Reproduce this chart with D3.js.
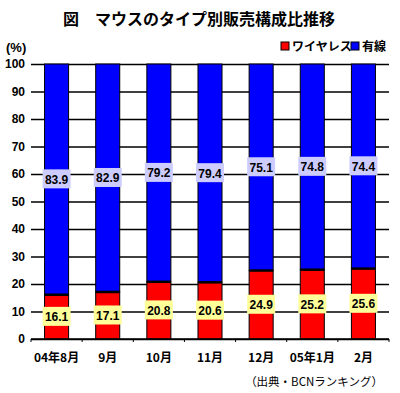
<!DOCTYPE html>
<html>
<head>
<meta charset="utf-8">
<script src="https://cdn.jsdelivr.net/npm/d3@7"></script>
<style>
  body { margin: 0; background: #fff; }
  svg { font-family: "Liberation Sans", "Noto Sans CJK JP", sans-serif; }
</style>
</head>
<body>
<div id="chart"></div>
<script>
// data
const months = ["04年8月", "9月", "10月", "11月", "12月", "05年1月", "2月"];
const wireless = [16.1, 17.1, 20.8, 20.6, 24.9, 25.2, 25.6];
const wired = [83.9, 82.9, 79.2, 79.4, 75.1, 74.8, 74.4];
const yTicks = [0, 10, 20, 30, 40, 50, 60, 70, 80, 90, 100];

const width = 400, height = 393;
const margin = { top: 64, right: 11, bottom: 54, left: 31 };

const svg = d3.select("#chart")
  .append("svg")
  .attr("width", width)
  .attr("height", height);

const x = d3.scaleBand()
  .domain(months)
  .range([margin.left, width - margin.right])
  .paddingInner(0.53)
  .paddingOuter(0.265);

const y = d3.scaleLinear()
  .domain([0, 100])
  .range([height - margin.bottom, margin.top]);

// title
svg.append("text")
  .attr("x", 199)
  .attr("y", 25)
  .attr("text-anchor", "middle")
  .attr("font-size", "16px")
  .attr("font-weight", "bold")
  .attr("font-family", "Noto Sans CJK JP")
  .text("図　マウスのタイプ別販売構成比推移");

svg.append("text")
  .attr("x", 6)
  .attr("y", 52)
  .attr("font-size", "13px")
  .attr("font-weight", "bold")
  .text("(%)");

// legend
const legend = [
  { name: "ワイヤレス", color: "#ff0000", x: 281 },
  { name: "有線", color: "#0000ff", x: 351 }
];
legend.forEach(d => {
  svg.append("rect")
    .attr("x", d.x).attr("y", 42)
    .attr("width", 8).attr("height", 8)
    .attr("fill", d.color)
    .attr("stroke", "#000");
  svg.append("text")
    .attr("x", d.x + 11).attr("y", 51)
    .attr("font-size", "12px")
    .attr("font-weight", "bold")
    .attr("font-family", "Noto Sans CJK JP")
    .text(d.name);
});

// grid lines + y labels
svg.append("g")
  .attr("transform", `translate(${margin.left},0)`)
  .call(d3.axisLeft(y).tickValues(yTicks).tickSize(-(width - margin.left - margin.right)).tickPadding(6))
  .call(g => g.select(".domain").remove())
  .call(g => g.selectAll("line").attr("stroke", "#000").attr("stroke-width", 1.5))
  .call(g => g.selectAll("text")
    .attr("font-size", "12px")
    .attr("font-weight", "bold")
    .attr("fill", "#000")
    .attr("font-family", "Liberation Sans"));

// x axis ticks at band boundaries
const step = x.step();
const bounds = d3.range(months.length + 1).map(i => margin.left + i * step);
svg.append("g")
  .selectAll("line")
  .data(bounds)
  .join("line")
    .attr("x1", d => d).attr("x2", d => d)
    .attr("y1", y(0)).attr("y2", y(0) + 3)
    .attr("stroke", "#000")
    .attr("stroke-width", 1);

// bars
const rows = months.map((m, i) => ({ month: m, wl: wireless[i], wd: wired[i] }));
const bars = svg.append("g");
bars.selectAll(".red")
  .data(rows)
  .join("rect")
    .attr("x", d => x(d.month))
    .attr("y", d => y(d.wl))
    .attr("width", x.bandwidth())
    .attr("height", d => y(0) - y(d.wl))
    .attr("fill", "#ff0000")
    .attr("stroke", "#000")
    .attr("stroke-width", 1);
bars.selectAll(".blue")
  .data(rows)
  .join("rect")
    .attr("x", d => x(d.month))
    .attr("y", y(100))
    .attr("width", x.bandwidth())
    .attr("height", d => y(d.wl) - y(100))
    .attr("fill", "#0000ff")
    .attr("stroke", "#000")
    .attr("stroke-width", 1);
// thicker divider between the two segments
bars.selectAll(".div")
  .data(rows)
  .join("line")
    .attr("x1", d => x(d.month))
    .attr("x2", d => x(d.month) + x.bandwidth())
    .attr("y1", d => y(d.wl))
    .attr("y2", d => y(d.wl))
    .attr("stroke", "#000")
    .attr("stroke-width", 2.5);

// baseline
svg.append("line")
  .attr("x1", margin.left).attr("x2", width - margin.right)
  .attr("y1", y(0)).attr("y2", y(0))
  .attr("stroke", "#000").attr("stroke-width", 1.5);

// value labels
function label(cx, cy, txt, bg) {
  svg.append("rect")
    .attr("x", cx - 14).attr("y", cy - 10)
    .attr("width", 28).attr("height", 19)
    .attr("fill", bg);
  svg.append("text")
    .attr("x", cx).attr("y", cy + 4.5)
    .attr("text-anchor", "middle")
    .attr("font-size", "12px")
    .attr("font-weight", "bold")
    .text(txt);
}
rows.forEach(d => {
  const cx = x(d.month) + x.bandwidth() / 2;
  label(cx, y(d.wl + d.wd / 2), d.wd.toFixed(1), "#ccccff");
  label(cx, y(d.wl / 2), d.wl.toFixed(1), "#ffff99");
});

// x labels
svg.append("g")
  .selectAll("text")
  .data(months)
  .join("text")
    .attr("x", d => x(d) + x.bandwidth() / 2)
    .attr("y", 362)
    .attr("text-anchor", "middle")
    .attr("font-size", "12px")
    .attr("font-weight", "bold")
    .attr("font-family", "Noto Sans CJK JP")
    .text(d => d);

// source note
svg.append("text")
  .attr("x", 383)
  .attr("y", 386)
  .attr("text-anchor", "end")
  .attr("font-size", "11.5px")
  .attr("font-family", "Noto Sans CJK JP")
  .text("（出典・BCNランキング）");
</script>
</body>
</html>
